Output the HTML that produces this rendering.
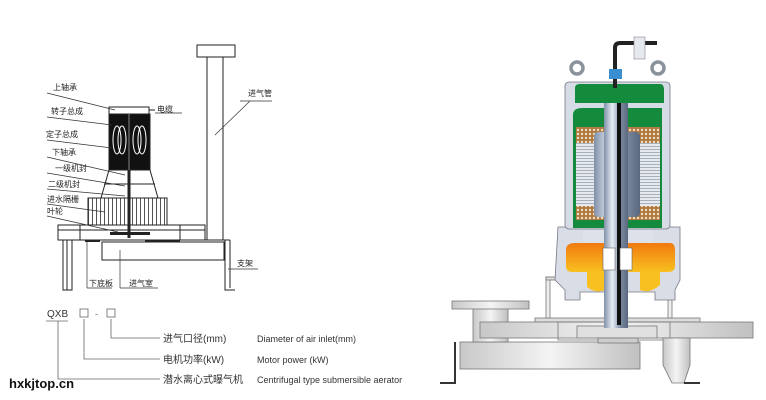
<!DOCTYPE html>
<html><head><meta charset="utf-8"><style>
html,body{margin:0;padding:0;background:#fff;}
svg{display:block}
text{font-family:"Liberation Sans","Noto Sans CJK SC",sans-serif;}
</style></head><body>
<svg width="766" height="400" viewBox="0 0 766 400" xmlns="http://www.w3.org/2000/svg">
<defs>
<linearGradient id="shaft" x1="0" x2="1"><stop offset="0" stop-color="#8090a8"/><stop offset="0.35" stop-color="#e8eef6"/><stop offset="0.7" stop-color="#7a88a0"/><stop offset="1" stop-color="#5a6880"/></linearGradient>
<linearGradient id="plate" x1="0" x2="1"><stop offset="0" stop-color="#c8c8c8"/><stop offset="0.5" stop-color="#f4f4f4"/><stop offset="1" stop-color="#c0c0c0"/></linearGradient>
<linearGradient id="org" x1="0" x2="0" y1="0" y2="1"><stop offset="0" stop-color="#f07a10"/><stop offset="1" stop-color="#f8c020"/></linearGradient>
<pattern id="lam" width="4" height="3" patternUnits="userSpaceOnUse"><rect width="4" height="3" fill="#e6e9ee"/><rect y="2" width="4" height="1" fill="#a8b0bc"/></pattern>
<pattern id="coil" width="4" height="4" patternUnits="userSpaceOnUse"><rect width="4" height="4" fill="#b07840"/><circle cx="2" cy="2" r="1.2" fill="#f0e0c0"/></pattern>
<pattern id="grill" width="4" height="4" patternUnits="userSpaceOnUse"><rect width="4" height="4" fill="#fff"/><rect width="1" height="4" fill="#555"/></pattern>
</defs>

<!-- ===== LEFT LINE DRAWING ===== -->
<g stroke="#222" stroke-width="1" fill="none">
<rect x="197" y="45" width="38" height="12"/>
<line x1="207" y1="57" x2="207" y2="240"/><line x1="223" y1="57" x2="223" y2="240"/>
<rect x="109" y="107" width="40" height="7"/>
<line x1="149" y1="110" x2="155" y2="110"/>
<rect x="109" y="114" width="41" height="56" fill="#111"/>
<path d="M109 170 L101 198 M150 170 L158 198"/>
<line x1="104" y1="184" x2="155" y2="184"/>
<rect x="88" y="198" width="79" height="27" fill="url(#grill)"/>
<rect x="58" y="225" width="147" height="15" fill="#fff"/>
<line x1="58" y1="230" x2="205" y2="230"/>
<line x1="80" y1="225" x2="80" y2="240"/><line x1="180" y1="225" x2="180" y2="240"/>
<rect x="102" y="242" width="122" height="18"/>
<line x1="85" y1="240" x2="230" y2="240"/>
<path d="M63 240 V290 H72 V240"/><line x1="67" y1="240" x2="67" y2="290"/>
<path d="M225 240 V290 H235"/><line x1="230" y1="240" x2="230" y2="288"/>
</g>
<g fill="none" stroke="#fff" stroke-width="1">
<ellipse cx="117" cy="140" rx="4" ry="14"/><ellipse cx="122" cy="140" rx="4" ry="14"/>
<ellipse cx="137" cy="140" rx="4" ry="14"/><ellipse cx="142" cy="140" rx="4" ry="14"/>
<line x1="129" y1="114" x2="129" y2="170" stroke="#888"/>
</g>
<line x1="129" y1="170" x2="129" y2="238" stroke="#222" stroke-width="3"/>
<rect x="110" y="232" width="40" height="3" fill="#222"/>
<rect x="85" y="240" width="15" height="2" fill="#222"/><rect x="145" y="240" width="35" height="2" fill="#222"/>
<g stroke="#333" stroke-width="0.7">
<line x1="47" y1="93" x2="115" y2="110"/>
<line x1="47" y1="117" x2="112" y2="125"/>
<line x1="47" y1="140" x2="112" y2="148"/>
<line x1="47" y1="157" x2="125" y2="175"/>
<line x1="47" y1="173" x2="125" y2="186"/>
<line x1="47" y1="189" x2="125" y2="196"/>
<line x1="47" y1="204" x2="105" y2="212"/>
<line x1="47" y1="216" x2="118" y2="232"/>
<line x1="155" y1="113" x2="182" y2="113"/>
<line x1="215" y1="135" x2="250" y2="101"/><line x1="240" y1="101" x2="272" y2="101"/>
<line x1="228" y1="269" x2="258" y2="269"/>
<line x1="87" y1="242" x2="87" y2="288"/><line x1="87" y1="288" x2="112" y2="288"/>
<line x1="120" y1="250" x2="120" y2="288"/><line x1="120" y1="288" x2="158" y2="288"/>
</g>
<g font-size="8" fill="#222">
<text x="53" y="90">上轴承</text>
<text x="51" y="114">转子总成</text>
<text x="46" y="137">定子总成</text>
<text x="52" y="155">下轴承</text>
<text x="55" y="171">一级机封</text>
<text x="48" y="187">二级机封</text>
<text x="47" y="202">进水隔栅</text>
<text x="47" y="214">叶轮</text>
<text x="157" y="112">电缆</text>
<text x="248" y="96">进气管</text>
<text x="237" y="266">支架</text>
<text x="89" y="286">下底板</text>
<text x="129" y="286">进气室</text>
</g>

<!-- ===== BOTTOM LEGEND ===== -->
<text x="47" y="317" font-size="10" fill="#333">QXB</text>
<rect x="80" y="309" width="8" height="8" fill="none" stroke="#666" stroke-width="0.8"/>
<text x="95" y="317" font-size="9" fill="#666">-</text>
<rect x="107" y="309" width="8" height="8" fill="none" stroke="#666" stroke-width="0.8"/>
<g stroke="#666" stroke-width="0.8" fill="none">
<line x1="46" y1="321" x2="68" y2="321"/>
<path d="M58 321 V379 H160"/>
<path d="M84 319 V359 H160"/>
<path d="M111 319 V338 H160"/>
</g>
<g font-size="10" fill="#333">
<text x="163" y="342">进气口径(mm)</text>
<text x="257" y="342" font-size="9">Diameter of air inlet(mm)</text>
<text x="163" y="363">电机功率(kW)</text>
<text x="257" y="363" font-size="9">Motor power (kW)</text>
<text x="163" y="383">潜水离心式曝气机</text>
<text x="257" y="383" font-size="9">Centrifugal type submersible aerator</text>
</g>
<text x="9" y="388" font-family="'DejaVu Sans Mono','Liberation Mono',monospace" font-size="13" font-weight="bold" fill="#111">hxkjtop.cn</text>

<!-- ===== RIGHT AERATOR ===== -->
<g stroke="#777" stroke-width="0.8">
<path d="M455 342 V383 H440" fill="none" stroke="#333" stroke-width="2"/>
<rect x="460" y="342" width="180" height="27" fill="url(#plate)"/>
<rect x="473" y="305" width="35" height="37" fill="url(#plate)"/>
<rect x="452" y="301" width="77" height="8" fill="url(#plate)"/>
<rect x="535" y="318" width="165" height="4" fill="#ddd"/>
<rect x="480" y="322" width="273" height="16" fill="url(#plate)"/>
<rect x="577" y="326" width="80" height="12" fill="#e0e0e0"/>
<rect x="558" y="322" width="112" height="18" fill="none"/>
<rect x="598" y="338" width="40" height="5" fill="#ccc"/>
<path d="M663 338 H690 V365 L684 383 H672 L663 365 Z" fill="url(#plate)"/>
<path d="M684 383 H700" stroke="#333" stroke-width="2"/>
<rect x="546" y="277" width="4" height="41" fill="#eee"/>
<rect x="668" y="280" width="4" height="38" fill="#eee"/>
<rect x="546" y="277" width="20" height="3" fill="#ddd"/>
</g>
<path d="M558 227 H680 V280 L675 290 V300 H655 V292 H580 V300 H565 V290 L555 280 Z" fill="#d8dde6" stroke="#778" stroke-width="0.8"/>
<path d="M566 250 Q566 243 575 243 H670 Q675 243 675 250 V266 Q675 272 668 272 H572 Q566 272 566 266 Z" fill="url(#org)"/>
<path d="M587 272 H605 V290 Q596 294 587 287 Z M640 272 H660 V285 Q650 294 640 290 Z" fill="#f8c020"/>
<rect x="565" y="82" width="105" height="147" rx="4" fill="#d6dce6" stroke="#778" stroke-width="0.8"/>
<path d="M575 88 Q575 84 580 84 H660 Q664 84 664 90 V103 H575 Z" fill="#138a3c"/>
<path d="M573 115 Q573 108 582 108 H662 V228 H573 Z" fill="#138a3c"/>
<rect x="576" y="127" width="84" height="16" fill="url(#coil)"/>
<rect x="576" y="206" width="84" height="14" fill="url(#coil)"/>
<rect x="576" y="143" width="84" height="63" fill="url(#lam)"/>
<rect x="594" y="132" width="46" height="85" rx="4" fill="url(#shaft)"/>
<rect x="583" y="230" width="70" height="13" fill="#dde2ea"/>
<rect x="604" y="103" width="24" height="225" fill="url(#shaft)"/>
<rect x="617" y="103" width="4" height="222" fill="#111"/>
<g fill="#fff" stroke="#666" stroke-width="0.6">
<rect x="603" y="248" width="12" height="22"/><rect x="620" y="248" width="12" height="22"/>
</g>
<g fill="none" stroke="#8a929c" stroke-width="3.5">
<circle cx="577" cy="68" r="6"/><circle cx="658" cy="68" r="6"/>
</g>
<path d="M615 88 V48 Q615 43 620 43 H657" fill="none" stroke="#222" stroke-width="4"/>
<rect x="634" y="37" width="11" height="22" fill="#e6eaf0" stroke="#888" stroke-width="0.6"/>
<rect x="609" y="69" width="13" height="10" fill="#3a8fd0"/>
</svg>
</body></html>
